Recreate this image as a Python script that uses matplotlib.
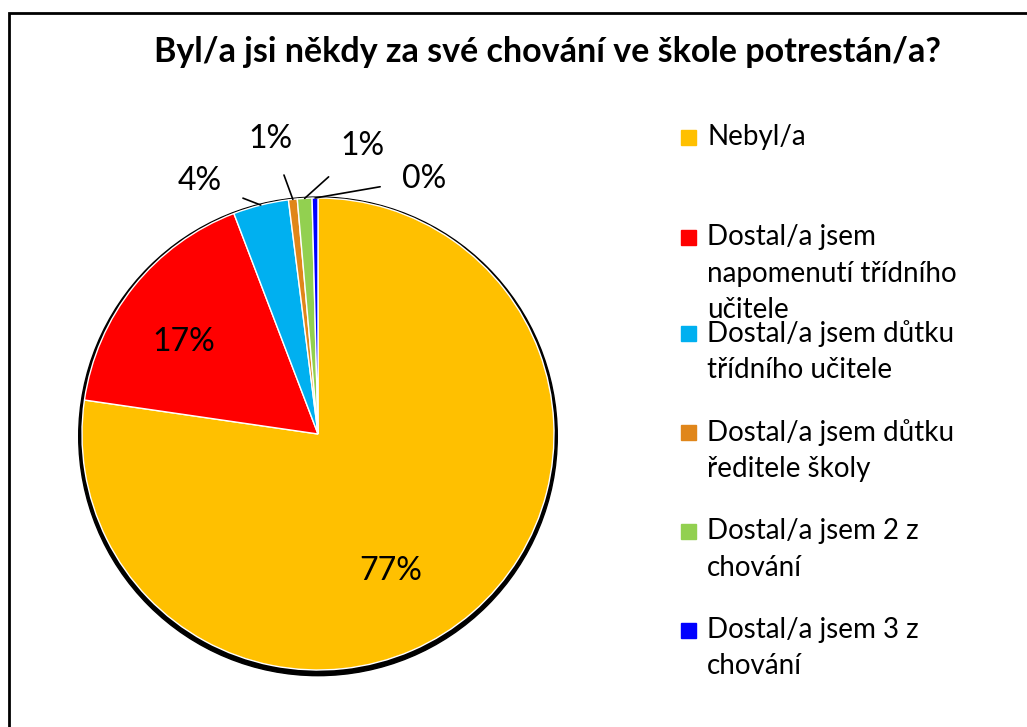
import matplotlib.pyplot as plt
from matplotlib.patches import Circle, Rectangle
import numpy as np

# Data (percent of respondents)
categories = ['Nebyl/a',
              'Dostal/a jsem\nnapomenutí třídního\nučitele',
              'Dostal/a jsem důtku\ntřídního učitele',
              'Dostal/a jsem důtku\nředitele školy',
              'Dostal/a jsem 2 z\nchování',
              'Dostal/a jsem 3 z\nchování']
shares = [77.3, 16.9, 3.8, 0.6, 1.0, 0.4]
colors = ['#FFC000', '#FF0000', '#00B0F0', '#E0861A', '#92D050', '#0000FF']
title = 'Byl/a jsi někdy za své chování ve škole potrestán/a?'

# label placement (data units of the pie axes)
label_pos = [(0.31, -0.58), (-0.57, 0.39), (-0.50, 1.07),
             (-0.20, 1.25), (0.19, 1.22), (0.45, 1.08)]
legend_y = [137, 237, 333, 432, 531, 630]  # pixel rows of legend entries

plt.rcParams['font.family'] = ['Lato', 'DejaVu Sans']

W, H = 1027, 727
fig = plt.figure(figsize=(W / 100, H / 100), dpi=100)

# outer frame (right and bottom edges are cut off in the original)
fig.patches.append(Rectangle((9 / W, -0.1), 1.2, (H - 13) / H + 0.1,
                             transform=fig.transFigure, fill=False,
                             edgecolor='black', lw=2))

fig.text(548 / W, 1 - 52 / H, title, ha='center', va='center',
         fontsize=24.5, fontweight='bold')

# pie axes: centre (318, 434) px, radius 236 px
r_px = 236
ax = fig.add_axes([(318 - r_px) / W, 1 - (434 + r_px) / H,
                   2 * r_px / W, 2 * r_px / H])
ax.add_patch(Circle((0, -0.01), 1.014, color='black', zorder=0, clip_on=False))
wedges, _ = ax.pie(shares, colors=colors, startangle=90, counterclock=False,
                   radius=1, wedgeprops=dict(edgecolor='white', linewidth=1))
for w in wedges:
    w.set_clip_on(False)
ax.set_xlim(-1, 1)
ax.set_ylim(-1, 1)
ax.axis('off')

for i, (w, pos) in enumerate(zip(wedges, label_pos)):
    txt = f'{shares[i]:.0f}%'
    if i < 2:
        ax.text(pos[0], pos[1], txt, ha='center', va='center', fontsize=23)
    else:
        mid = np.deg2rad((w.theta1 + w.theta2) / 2)
        ax.annotate(txt, xy=(np.cos(mid), np.sin(mid)), xytext=pos,
                    ha='center', va='center', fontsize=23,
                    annotation_clip=False,
                    arrowprops=dict(arrowstyle='-', color='black', lw=1.2,
                                    shrinkA=14, shrinkB=0))

# legend
for col, lab, y in zip(colors, categories, legend_y):
    fig.patches.append(Rectangle((681 / W, 1 - (y + 8) / H), 15 / W, 15 / H,
                                 transform=fig.transFigure, color=col))
    fig.text(707 / W, 1 - (y - 13) / H, lab, ha='left', va='top',
             fontsize=20, linespacing=1.5)

fig.savefig('out.png', dpi=100)
